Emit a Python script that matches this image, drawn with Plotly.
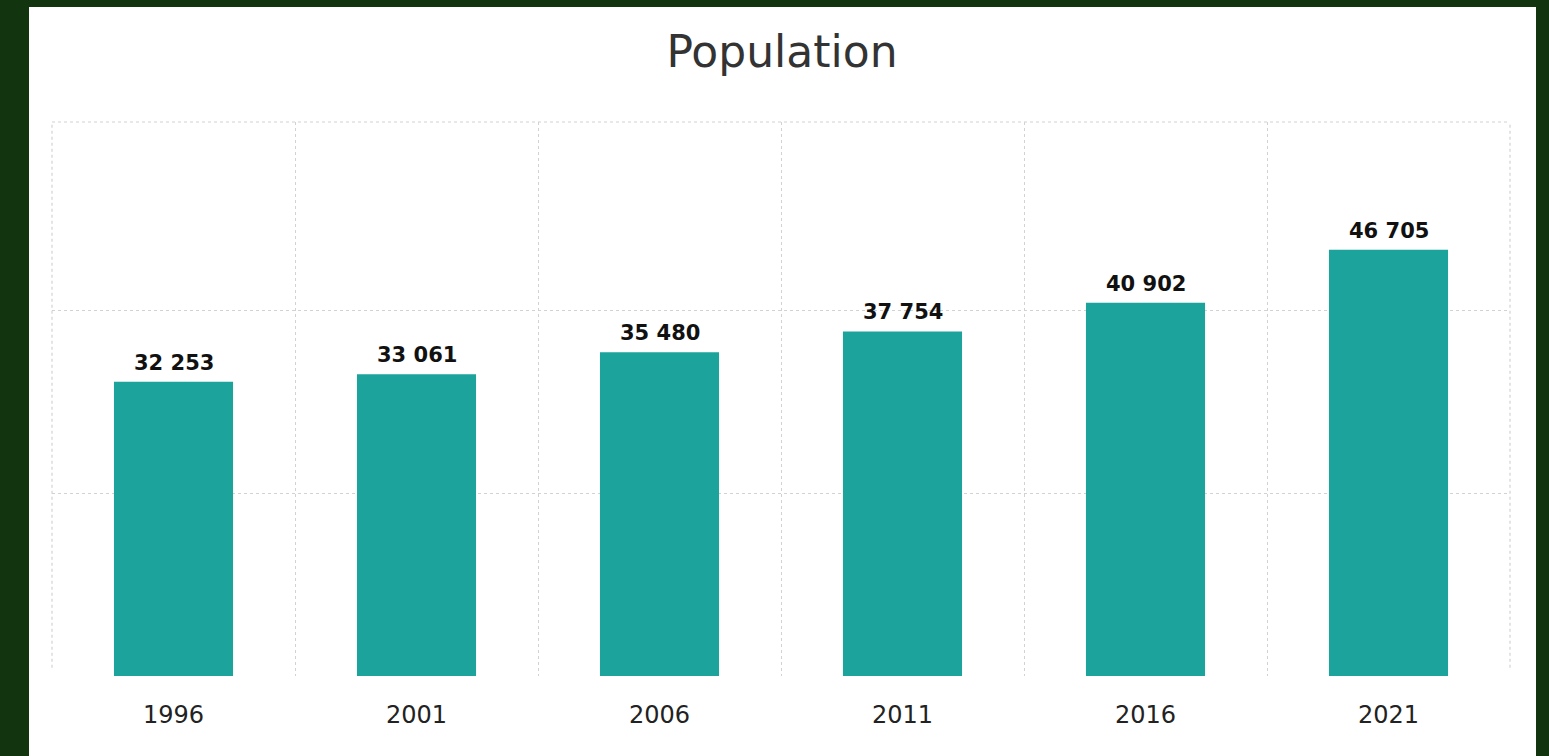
import plotly.graph_objects as go

years = ["1996", "2001", "2006", "2011", "2016", "2021"]
population = [32253, 33061, 35480, 37754, 40902, 46705]
labels = [f"{v:,}".replace(",", " ") for v in population]

W, H = 1549, 756
L, R, T, B = 52, 39, 122, 80
pw, ph = W - L - R, H - T - B
GRID = "#d2d2d2"

fig = go.Figure()
fig.add_trace(go.Bar(
    x=years, y=population, width=0.49,
    marker=dict(color="#1ba39c", line=dict(width=0)),
    hoverinfo="x+y",
))

for i, (v, lab) in enumerate(zip(population, labels)):
    fig.add_annotation(
        x=i, y=v, text=f"<b>{lab}</b>", showarrow=False,
        yanchor="bottom", yshift=5,
        font=dict(family="DejaVu Sans", size=21, color="#111111"),
    )

# white panel
fig.add_shape(
    type="rect", xref="paper", yref="paper", layer="below",
    x0=(29 - L) / pw, x1=(1536 - L) / pw,
    y0=-0.3, y1=(H - B - 7) / ph,
    fillcolor="white", line=dict(width=0),
)
# outer dotted frame lines at the plot edges
for xe in (0, 1):
    fig.add_shape(
        type="line", xref="x domain", yref="y domain", layer="below",
        x0=xe, x1=xe, y0=0.015, y1=1,
        line=dict(color=GRID, width=1.2, dash="dot"),
    )
fig.add_shape(
    type="line", xref="x domain", yref="y domain", layer="below",
    x0=0, x1=1, y0=1, y1=1,
    line=dict(color=GRID, width=1.2, dash="dot"),
)

fig.update_layout(
    width=W, height=H,
    margin=dict(l=L, r=R, t=T, b=B, pad=0),
    paper_bgcolor="#12340f",
    plot_bgcolor="rgba(0,0,0,0)",
    showlegend=False,
    title=dict(
        text="Population", x=782 / W, xanchor="center",
        y=1 - 52 / H, yanchor="middle",
        font=dict(family="DejaVu Sans", size=44, color="#333333"),
    ),
)
fig.update_xaxes(
    type="category", tickson="boundaries",
    showgrid=True, gridcolor=GRID, griddash="dot", gridwidth=1.2,
    showline=False, zeroline=False, ticks="", ticklabelstandoff=22,
    tickfont=dict(family="DejaVu Sans", size=24, color="#222222"),
    range=[-0.5, 5.5],
)
fig.update_yaxes(
    range=[0, 60700], tickvals=[20000, 40000], showticklabels=False,
    showgrid=True, gridcolor=GRID, griddash="dot", gridwidth=1.2,
    zeroline=False, showline=False, ticks="",
)

fig.write_html("out.html")
